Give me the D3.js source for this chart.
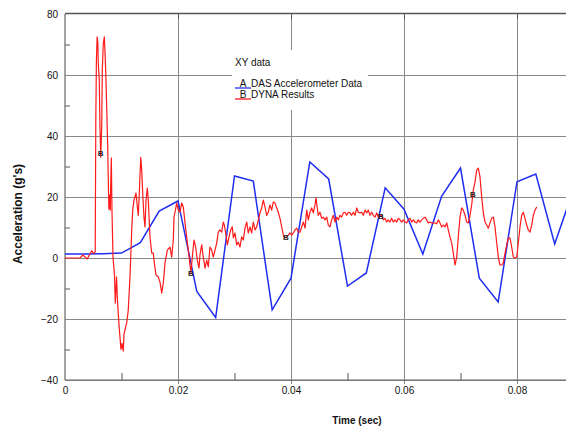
<!DOCTYPE html>
<html>
<head>
<meta charset="utf-8">
<script src="https://cdn.jsdelivr.net/npm/d3@7"></script>
<style>
  body { margin: 0; background: #fff; }
  svg { display: block; font-family: "Liberation Sans", Arial, sans-serif; }
  .grid line { stroke: #888; stroke-width: 1; }
  .grid path { display: none; }
  .tk path { display: none; }
  .tk line { stroke: #555; }
  .lbl text { font-size: 10px; fill: #111; }
  .lbl path, .lbl line { display: none; }
</style>
</head>
<body>
<script>
// tick values
var yMajor = [-40, -20, 0, 20, 40, 60, 80];
var yMinor = [-30, -10, 10, 30, 50, 70];
var xMajor = [0, 0.02, 0.04, 0.06, 0.08];
var xMinor = [0.01, 0.03, 0.05, 0.07, 0.09];
var xLabels = ['0', '0.02', '0.04', '0.06', '0.08'];

// A: DAS Accelerometer Data  [time, g]
var dasData = [
  [0, 1.3], [0.00333, 1.3], [0.00667, 1.4], [0.01, 1.6], [0.01333, 5], [0.01667, 15.4],
  [0.02, 18.7], [0.02333, -11], [0.02667, -19.5], [0.03, 26.9], [0.03333, 25.2], [0.03667, -17],
  [0.04, -6.6], [0.04333, 31.5], [0.04667, 25.9], [0.05, -9.2], [0.05333, -4.9], [0.05667, 23],
  [0.06, 16], [0.06333, 1.3], [0.06667, 20.3], [0.07, 29.5], [0.07333, -6.6], [0.07667, -14.4],
  [0.08, 25], [0.08333, 27.5], [0.08667, 4.6], [0.09, 22.5]
];

// B: DYNA Results  [time, g]
var dynaData = [
  [0, 0], [0.00265, 0], [0.00319, 1], [0.00354, 0.3], [0.00395, -0.3], [0.0043, 1], [0.00473, 2.4],
  [0.00501, 1.5], [0.00535, 2], [0.00545, 44.6], [0.00556, 65], [0.00569, 72.5], [0.00581, 70.5],
  [0.00589, 64], [0.00607, 58], [0.00619, 43], [0.00632, 33], [0.0065, 43], [0.0066, 61.6],
  [0.00678, 70.5], [0.00696, 72.5], [0.00708, 67.5], [0.0072, 61.6], [0.00738, 49.5], [0.00756, 36.4],
  [0.00766, 25.6], [0.00777, 16], [0.0079, 20.6], [0.00802, 15.7], [0.00809, 24], [0.0082, 32.8],
  [0.00832, 15], [0.0085, 0], [0.00876, -5.6], [0.0089, -14.8], [0.00912, -6.2], [0.00929, -14],
  [0.00956, -22], [0.00973, -26], [0.00991, -30], [0.01009, -28], [0.01032, -30.5], [0.01044, -25],
  [0.01062, -23.6], [0.01092, -21.3], [0.0112, -17], [0.01138, -10.5], [0.0115, -6.2], [0.01168, 2.6],
  [0.01181, 9.2], [0.01198, 15.7], [0.01221, 19], [0.01257, 21.3], [0.0128, 16.7], [0.01297, 14],
  [0.01315, 21.3], [0.0134, 33], [0.01358, 28.9], [0.01375, 21.3], [0.01398, 13.4], [0.01416, 10.2],
  [0.01434, 19], [0.01457, 22.9], [0.01474, 19], [0.01504, 6.9], [0.01535, 1.6], [0.01563, 1.6],
  [0.01581, -1.6], [0.01611, -5.6], [0.01651, -6.2], [0.01681, -7.9], [0.01712, -11.5], [0.0174, -8.2],
  [0.0177, -1.6], [0.01811, 2.6], [0.01858, 3.6], [0.01888, 0.3], [0.01917, 5.9], [0.01929, 13.4],
  [0.01947, 15], [0.01977, 18], [0.02005, 15.7], [0.02035, 15], [0.02065, 18], [0.02094, 16.7],
  [0.02124, 11.5], [0.02154, 6.9], [0.02182, 2.6], [0.02212, -2.3], [0.0223, -4.9], [0.02253, 0.3],
  [0.02283, 5.9], [0.02313, 3.6], [0.02342, -0.7], [0.02372, -3.3], [0.02389, 1], [0.02419, 4.3],
  [0.02448, 0.3], [0.02478, -3.3], [0.02508, -0.7], [0.02536, -2.9], [0.02566, 3.6], [0.02596, 2.6],
  [0.02625, 0.3], [0.02655, 2.6], [0.02685, 4.9], [0.02713, 8.5], [0.02743, 9.2], [0.02773, 8.5],
  [0.02802, 11.8], [0.0282, 10.8], [0.02844, 8.2], [0.02873, 4.3], [0.02903, 6.9], [0.02933, 9.2],
  [0.02961, 10.2], [0.02979, 6.6], [0.03009, 8.2], [0.03039, 4.3], [0.03067, 5.2], [0.03097, 3.6],
  [0.03127, 6.9], [0.03156, 5.9], [0.03186, 9.8], [0.03216, 11.8], [0.03244, 8.2], [0.03274, 10.2],
  [0.03304, 8.2], [0.03333, 11.8], [0.03363, 9.2], [0.03393, 10.2], [0.03421, 12.5], [0.03451, 14.8],
  [0.03481, 16.4], [0.0351, 19], [0.0354, 16.7], [0.0357, 14], [0.03598, 15], [0.03628, 17.4],
  [0.03658, 15.7], [0.03687, 18.4], [0.03717, 18], [0.03747, 16.4], [0.03775, 15], [0.03805, 13],
  [0.03835, 10.2], [0.03864, 7.5], [0.03894, 6.6], [0.03952, 7.5], [0.03982, 8.2], [0.04012, 7.5],
  [0.04041, 8.2], [0.04071, 9.2], [0.04101, 9.8], [0.04129, 8.5], [0.04159, 8.5], [0.04189, 10.2],
  [0.04218, 11.8], [0.04248, 9.8], [0.04278, 15.7], [0.04306, 12.5], [0.04336, 15], [0.04366, 16.4],
  [0.04395, 14.8], [0.04425, 17.4], [0.04442, 19.7], [0.04465, 16.4], [0.04483, 14], [0.04513, 15],
  [0.04543, 13], [0.04572, 13.4], [0.04602, 12.5], [0.04632, 13.4], [0.0466, 10.8], [0.0469, 10.2],
  [0.0472, 12.5], [0.04749, 14], [0.04779, 11.8], [0.04809, 13.4], [0.04837, 12.5], [0.04867, 14],
  [0.04897, 13.4], [0.04926, 14.8], [0.04956, 15], [0.04986, 14], [0.05014, 15], [0.05044, 14.8],
  [0.05074, 14], [0.05103, 15], [0.05133, 14], [0.05163, 16.4], [0.05191, 15], [0.05221, 14.8],
  [0.05251, 15], [0.0528, 14], [0.0531, 15.7], [0.0534, 14.8], [0.05368, 15.7], [0.05398, 14],
  [0.05428, 15], [0.05457, 14], [0.05487, 13.4], [0.05517, 14.8], [0.05545, 13.4], [0.05605, 14],
  [0.05634, 12.5], [0.05664, 13], [0.05694, 11.8], [0.05722, 12.5], [0.05752, 11.8], [0.05782, 13],
  [0.05811, 11.8], [0.05841, 12.5], [0.05871, 11.8], [0.05899, 13], [0.05929, 12.5], [0.05959, 11.8],
  [0.05988, 12.5], [0.06018, 11.8], [0.06048, 11.5], [0.06076, 12.5], [0.06106, 13], [0.06136, 11.8],
  [0.06165, 12.5], [0.06195, 11.8], [0.06225, 11.5], [0.06253, 12.5], [0.06283, 11.8], [0.06313, 12.5],
  [0.06342, 13], [0.06372, 13.4], [0.06402, 12.5], [0.0643, 11.5], [0.0646, 11.8], [0.0649, 11.5],
  [0.06519, 11.5], [0.06549, 11.5], [0.06579, 11.2], [0.06607, 12.5], [0.06637, 11.5], [0.06667, 10.2],
  [0.06696, 10.8], [0.06726, 10.2], [0.06756, 11.5], [0.06784, 9.2], [0.06814, 6.9], [0.06844, 4.9],
  [0.06873, 1.6], [0.06903, -2.3], [0.06933, 0.3], [0.06961, 6.9], [0.06991, 13.4], [0.07021, 16.4],
  [0.0705, 15.7], [0.0708, 14], [0.0711, 11.8], [0.07138, 11.5], [0.07168, 14], [0.07198, 17.4],
  [0.07227, 22.3], [0.07257, 24.9], [0.07287, 28.9], [0.07315, 29.5], [0.07345, 26.6], [0.07375, 20],
  [0.07404, 14.8], [0.07434, 11.8], [0.07464, 10.8], [0.07492, 9.8], [0.07522, 11.5], [0.07552, 13],
  [0.07581, 13.4], [0.07611, 10.2], [0.07641, 4.9], [0.07669, 0.3], [0.07699, -2.3], [0.07729, -2.3],
  [0.07758, -1.6], [0.07788, 1.6], [0.07818, 4.3], [0.07846, 6.6], [0.07876, 6.6], [0.07906, 3.6],
  [0.07935, 0.3], [0.07965, 0], [0.07995, 0.3], [0.08023, 4.9], [0.08053, 10.2], [0.08083, 14],
  [0.08112, 15], [0.08142, 13], [0.08172, 10.8], [0.082, 9.2], [0.0823, 8.5], [0.0826, 10.8],
  [0.08289, 14], [0.08319, 15.7], [0.08349, 16.7]
];

// where the "B" symbols sit along the DYNA curve
var dynaMarkTimes = [0.0063, 0.0223, 0.0391, 0.0559, 0.0722];

var W = 566, H = 426;
var padL = 65, padT = 14, padB = 380;

var svg = d3.select('body').append('svg').attr('width', W).attr('height', H);

var x = d3.scaleLinear().domain([0, 0.09]).range([padL, padL + 0.09 * 5650]);
var y = d3.scaleLinear().domain([-40, 80]).range([padB, padT]);

// grid (verticals poke a little below the axis, like major ticks)
svg.append('g').attr('class', 'grid')
  .attr('transform', 'translate(' + padL + ',0)')
  .call(d3.axisLeft(y).tickValues(yMajor.slice(0, -1)).tickSize(-(W - padL)).tickFormat(''));
svg.append('g').attr('class', 'grid')
  .attr('transform', 'translate(0,' + (padB + 4) + ')')
  .call(d3.axisBottom(x).tickValues(xMajor.slice(1)).tickSize(-(padB + 4 - padT)).tickFormat(''));

// minor ticks, pointing inward
svg.append('g').attr('class', 'tk')
  .attr('transform', 'translate(' + padL + ',0)')
  .call(d3.axisLeft(y).tickValues(yMinor).tickSize(-5).tickFormat(''));
svg.append('g').attr('class', 'tk')
  .attr('transform', 'translate(0,' + padB + ')')
  .call(d3.axisBottom(x).tickValues(xMinor).tickSize(-7).tickFormat(''));
// top edge: major ticks pointing down
svg.append('g').attr('class', 'tk')
  .attr('transform', 'translate(0,' + padT + ')')
  .call(d3.axisTop(x).tickValues(xMajor.slice(1)).tickSize(-5).tickFormat(''));

// frame lines
svg.append('line').attr('x1', padL).attr('x2', padL).attr('y1', padT).attr('y2', padB)
  .attr('stroke', '#666').attr('stroke-width', 1.2);
svg.append('line').attr('x1', padL).attr('x2', W).attr('y1', padB).attr('y2', padB)
  .attr('stroke', '#666').attr('stroke-width', 1.2);
svg.append('line').attr('x1', padL).attr('x2', W).attr('y1', padT - 0.5).attr('y2', padT - 0.5)
  .attr('stroke', '#555').attr('stroke-width', 1.5);

// tick labels
svg.append('g').attr('class', 'lbl')
  .attr('transform', 'translate(' + padL + ',0)')
  .call(d3.axisLeft(y).tickValues(yMajor).tickSize(0).tickPadding(7));
svg.append('g').attr('class', 'lbl')
  .attr('transform', 'translate(0,' + padB + ')')
  .call(d3.axisBottom(x).tickValues(xMajor).tickSize(0).tickPadding(7)
    .tickFormat(function(d, i){ return xLabels[i]; }));

// axis titles
svg.append('text')
  .attr('transform', 'translate(22,214) rotate(-90)')
  .attr('text-anchor', 'middle')
  .style('font-size', '12px').style('font-weight', 'bold').attr('fill', '#111')
  .text("Acceleration (g's)");
svg.append('text')
  .attr('x', 357).attr('y', 424).attr('text-anchor', 'middle')
  .style('font-size', '10px').style('font-weight', 'bold').attr('fill', '#111')
  .text('Time (sec)');

// legend
var lg = svg.append('g');
lg.append('rect').attr('x', 232).attr('y', 50).attr('width', 136).attr('height', 60).attr('fill', '#fff');
lg.append('text').attr('x', 235).attr('y', 66).style('font-size', '10px').attr('fill', '#111').text('XY data');
var legendRows = [
  {key: 'A', name: 'DAS Accelerometer Data', color: '#1f2ef0', y: 87},
  {key: 'B', name: 'DYNA Results', color: '#ff1a1a', y: 98}
];
legendRows.forEach(function(r){
  lg.append('line').attr('x1', 235).attr('x2', 251).attr('y1', r.y + 1).attr('y2', r.y + 1)
    .attr('stroke', r.color).attr('stroke-width', 1.3);
  lg.append('text').attr('x', 243).attr('y', r.y).attr('text-anchor', 'middle')
    .style('font-size', '10px').attr('fill', '#111').text(r.key);
  lg.append('text').attr('x', 251).attr('y', r.y)
    .style('font-size', '10px').attr('fill', '#111').text(r.name);
});

// data
svg.append('clipPath').attr('id', 'plotclip')
  .append('rect').attr('x', padL).attr('y', padT).attr('width', W - padL).attr('height', padB - padT);

var line = d3.line().x(function(d){ return x(d[0]); }).y(function(d){ return y(d[1]); });

var plot = svg.append('g').attr('clip-path', 'url(#plotclip)');
plot.append('path').datum(dasData).attr('d', line)
  .attr('fill', 'none').attr('stroke', '#1f2ef0').attr('stroke-width', 1.5);
plot.append('path').datum(dynaData).attr('d', line)
  .attr('fill', 'none').attr('stroke', '#ff1a1a').attr('stroke-width', 1.2).attr('stroke-linejoin', 'round');

// "B" symbols on the curve
var bis = d3.bisector(function(d){ return d[0]; }).left;
dynaMarkTimes.forEach(function(t){
  var i = bis(dynaData, t);
  var a = dynaData[i - 1], b = dynaData[i];
  var v = a[1] + (b[1] - a[1]) * (t - a[0]) / (b[0] - a[0]);
  plot.append('text').attr('x', x(t)).attr('y', y(v) + 3).attr('text-anchor', 'middle')
    .style('font-size', '8px').style('font-weight', 'bold').attr('fill', '#222').text('B');
});
</script>
</body>
</html>
